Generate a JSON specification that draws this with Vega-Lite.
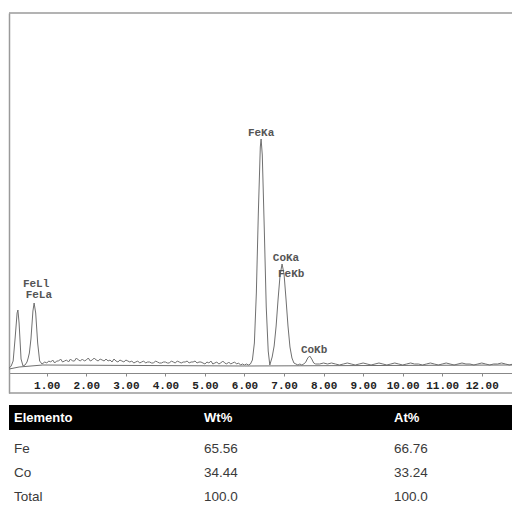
{
  "$schema": "https://vega.github.io/schema/vega-lite/v6.json",
  "padding": {"left": 7, "top": 12, "right": 0, "bottom": 0},
  "spacing": 11,
  "background": "white",
  "config": {"view": {"stroke": null}, "font": "Liberation Sans"},
  "datasets": {
    "spectrum": [
      {"keV": 0.05, "counts": 5, "series": "spectrum"},
      {"keV": 0.1, "counts": 7, "series": "spectrum"},
      {"keV": 0.15, "counts": 12, "series": "spectrum"},
      {"keV": 0.2, "counts": 35, "series": "spectrum"},
      {"keV": 0.25, "counts": 60, "series": "spectrum"},
      {"keV": 0.27, "counts": 63, "series": "spectrum"},
      {"keV": 0.3, "counts": 50, "series": "spectrum"},
      {"keV": 0.35, "counts": 14, "series": "spectrum"},
      {"keV": 0.4, "counts": 7, "series": "spectrum"},
      {"keV": 0.45, "counts": 8, "series": "spectrum"},
      {"keV": 0.5, "counts": 11, "series": "spectrum"},
      {"keV": 0.53, "counts": 15, "series": "spectrum"},
      {"keV": 0.56, "counts": 20, "series": "spectrum"},
      {"keV": 0.6, "counts": 34, "series": "spectrum"},
      {"keV": 0.65, "counts": 62, "series": "spectrum"},
      {"keV": 0.68, "counts": 70, "series": "spectrum"},
      {"keV": 0.72, "counts": 60, "series": "spectrum"},
      {"keV": 0.77, "counts": 30, "series": "spectrum"},
      {"keV": 0.82, "counts": 12, "series": "spectrum"},
      {"keV": 0.88, "counts": 9, "series": "spectrum"},
      {"keV": 0.95, "counts": 11, "series": "spectrum"},
      {"keV": 1.0, "counts": 10, "series": "spectrum"},
      {"keV": 1.05, "counts": 12, "series": "spectrum"},
      {"keV": 1.1, "counts": 11, "series": "spectrum"},
      {"keV": 1.15, "counts": 13, "series": "spectrum"},
      {"keV": 1.2, "counts": 10, "series": "spectrum"},
      {"keV": 1.25, "counts": 12, "series": "spectrum"},
      {"keV": 1.3, "counts": 12, "series": "spectrum"},
      {"keV": 1.35, "counts": 14, "series": "spectrum"},
      {"keV": 1.4, "counts": 11, "series": "spectrum"},
      {"keV": 1.45, "counts": 12, "series": "spectrum"},
      {"keV": 1.5, "counts": 13, "series": "spectrum"},
      {"keV": 1.55, "counts": 11, "series": "spectrum"},
      {"keV": 1.6, "counts": 14, "series": "spectrum"},
      {"keV": 1.65, "counts": 12, "series": "spectrum"},
      {"keV": 1.7, "counts": 12, "series": "spectrum"},
      {"keV": 1.75, "counts": 15, "series": "spectrum"},
      {"keV": 1.8, "counts": 13, "series": "spectrum"},
      {"keV": 1.85, "counts": 12, "series": "spectrum"},
      {"keV": 1.9, "counts": 14, "series": "spectrum"},
      {"keV": 1.95, "counts": 12, "series": "spectrum"},
      {"keV": 2.0, "counts": 13, "series": "spectrum"},
      {"keV": 2.05, "counts": 15, "series": "spectrum"},
      {"keV": 2.1, "counts": 12, "series": "spectrum"},
      {"keV": 2.15, "counts": 13, "series": "spectrum"},
      {"keV": 2.2, "counts": 15, "series": "spectrum"},
      {"keV": 2.25, "counts": 13, "series": "spectrum"},
      {"keV": 2.3, "counts": 12, "series": "spectrum"},
      {"keV": 2.35, "counts": 14, "series": "spectrum"},
      {"keV": 2.4, "counts": 13, "series": "spectrum"},
      {"keV": 2.45, "counts": 12, "series": "spectrum"},
      {"keV": 2.5, "counts": 14, "series": "spectrum"},
      {"keV": 2.55, "counts": 12, "series": "spectrum"},
      {"keV": 2.6, "counts": 13, "series": "spectrum"},
      {"keV": 2.65, "counts": 11, "series": "spectrum"},
      {"keV": 2.7, "counts": 14, "series": "spectrum"},
      {"keV": 2.75, "counts": 12, "series": "spectrum"},
      {"keV": 2.8, "counts": 11, "series": "spectrum"},
      {"keV": 2.85, "counts": 13, "series": "spectrum"},
      {"keV": 2.9, "counts": 12, "series": "spectrum"},
      {"keV": 2.95, "counts": 11, "series": "spectrum"},
      {"keV": 3.0, "counts": 13, "series": "spectrum"},
      {"keV": 3.05, "counts": 12, "series": "spectrum"},
      {"keV": 3.1, "counts": 11, "series": "spectrum"},
      {"keV": 3.15, "counts": 12, "series": "spectrum"},
      {"keV": 3.2, "counts": 10, "series": "spectrum"},
      {"keV": 3.25, "counts": 11, "series": "spectrum"},
      {"keV": 3.3, "counts": 12, "series": "spectrum"},
      {"keV": 3.35, "counts": 10, "series": "spectrum"},
      {"keV": 3.4, "counts": 11, "series": "spectrum"},
      {"keV": 3.45, "counts": 12, "series": "spectrum"},
      {"keV": 3.5, "counts": 10, "series": "spectrum"},
      {"keV": 3.55, "counts": 11, "series": "spectrum"},
      {"keV": 3.6, "counts": 11, "series": "spectrum"},
      {"keV": 3.65, "counts": 10, "series": "spectrum"},
      {"keV": 3.7, "counts": 10, "series": "spectrum"},
      {"keV": 3.75, "counts": 12, "series": "spectrum"},
      {"keV": 3.8, "counts": 11, "series": "spectrum"},
      {"keV": 3.85, "counts": 10, "series": "spectrum"},
      {"keV": 3.9, "counts": 10, "series": "spectrum"},
      {"keV": 3.95, "counts": 11, "series": "spectrum"},
      {"keV": 4.0, "counts": 11, "series": "spectrum"},
      {"keV": 4.05, "counts": 10, "series": "spectrum"},
      {"keV": 4.1, "counts": 10, "series": "spectrum"},
      {"keV": 4.15, "counts": 12, "series": "spectrum"},
      {"keV": 4.2, "counts": 11, "series": "spectrum"},
      {"keV": 4.25, "counts": 10, "series": "spectrum"},
      {"keV": 4.3, "counts": 12, "series": "spectrum"},
      {"keV": 4.35, "counts": 11, "series": "spectrum"},
      {"keV": 4.4, "counts": 10, "series": "spectrum"},
      {"keV": 4.45, "counts": 11, "series": "spectrum"},
      {"keV": 4.5, "counts": 11, "series": "spectrum"},
      {"keV": 4.55, "counts": 12, "series": "spectrum"},
      {"keV": 4.6, "counts": 10, "series": "spectrum"},
      {"keV": 4.65, "counts": 11, "series": "spectrum"},
      {"keV": 4.7, "counts": 11, "series": "spectrum"},
      {"keV": 4.75, "counts": 12, "series": "spectrum"},
      {"keV": 4.8, "counts": 10, "series": "spectrum"},
      {"keV": 4.85, "counts": 11, "series": "spectrum"},
      {"keV": 4.9, "counts": 11, "series": "spectrum"},
      {"keV": 4.95, "counts": 10, "series": "spectrum"},
      {"keV": 5.0, "counts": 9, "series": "spectrum"},
      {"keV": 5.05, "counts": 11, "series": "spectrum"},
      {"keV": 5.1, "counts": 10, "series": "spectrum"},
      {"keV": 5.15, "counts": 12, "series": "spectrum"},
      {"keV": 5.2, "counts": 9, "series": "spectrum"},
      {"keV": 5.25, "counts": 10, "series": "spectrum"},
      {"keV": 5.3, "counts": 11, "series": "spectrum"},
      {"keV": 5.35, "counts": 9, "series": "spectrum"},
      {"keV": 5.4, "counts": 10, "series": "spectrum"},
      {"keV": 5.45, "counts": 12, "series": "spectrum"},
      {"keV": 5.5, "counts": 10, "series": "spectrum"},
      {"keV": 5.55, "counts": 9, "series": "spectrum"},
      {"keV": 5.6, "counts": 11, "series": "spectrum"},
      {"keV": 5.65, "counts": 9, "series": "spectrum"},
      {"keV": 5.7, "counts": 10, "series": "spectrum"},
      {"keV": 5.75, "counts": 11, "series": "spectrum"},
      {"keV": 5.8, "counts": 9, "series": "spectrum"},
      {"keV": 5.85, "counts": 10, "series": "spectrum"},
      {"keV": 5.9, "counts": 8, "series": "spectrum"},
      {"keV": 5.95, "counts": 9, "series": "spectrum"},
      {"keV": 6.0, "counts": 8, "series": "spectrum"},
      {"keV": 6.05, "counts": 9, "series": "spectrum"},
      {"keV": 6.1, "counts": 8, "series": "spectrum"},
      {"keV": 6.15, "counts": 9, "series": "spectrum"},
      {"keV": 6.2, "counts": 13, "series": "spectrum"},
      {"keV": 6.25, "counts": 30, "series": "spectrum"},
      {"keV": 6.3, "counts": 80, "series": "spectrum"},
      {"keV": 6.35, "counts": 160, "series": "spectrum"},
      {"keV": 6.4, "counts": 226, "series": "spectrum"},
      {"keV": 6.42, "counts": 234, "series": "spectrum"},
      {"keV": 6.45, "counts": 218, "series": "spectrum"},
      {"keV": 6.5, "counts": 145, "series": "spectrum"},
      {"keV": 6.55, "counts": 66, "series": "spectrum"},
      {"keV": 6.6, "counts": 22, "series": "spectrum"},
      {"keV": 6.64, "counts": 8, "series": "spectrum"},
      {"keV": 6.7, "counts": 16, "series": "spectrum"},
      {"keV": 6.75, "counts": 27, "series": "spectrum"},
      {"keV": 6.8, "counts": 47, "series": "spectrum"},
      {"keV": 6.85, "counts": 74, "series": "spectrum"},
      {"keV": 6.9, "counts": 98, "series": "spectrum"},
      {"keV": 6.95, "counts": 109, "series": "spectrum"},
      {"keV": 7.0, "counts": 99, "series": "spectrum"},
      {"keV": 7.05, "counts": 74, "series": "spectrum"},
      {"keV": 7.1, "counts": 47, "series": "spectrum"},
      {"keV": 7.15, "counts": 26, "series": "spectrum"},
      {"keV": 7.2, "counts": 15, "series": "spectrum"},
      {"keV": 7.25, "counts": 10, "series": "spectrum"},
      {"keV": 7.3, "counts": 9, "series": "spectrum"},
      {"keV": 7.35, "counts": 8, "series": "spectrum"},
      {"keV": 7.4, "counts": 9, "series": "spectrum"},
      {"keV": 7.45, "counts": 8, "series": "spectrum"},
      {"keV": 7.5, "counts": 9, "series": "spectrum"},
      {"keV": 7.55, "counts": 11, "series": "spectrum"},
      {"keV": 7.6, "counts": 15, "series": "spectrum"},
      {"keV": 7.65, "counts": 17, "series": "spectrum"},
      {"keV": 7.7, "counts": 14, "series": "spectrum"},
      {"keV": 7.75, "counts": 10, "series": "spectrum"},
      {"keV": 7.8, "counts": 9, "series": "spectrum"},
      {"keV": 7.9, "counts": 9, "series": "spectrum"},
      {"keV": 8.0, "counts": 10, "series": "spectrum"},
      {"keV": 8.1, "counts": 9, "series": "spectrum"},
      {"keV": 8.2, "counts": 10, "series": "spectrum"},
      {"keV": 8.3, "counts": 9, "series": "spectrum"},
      {"keV": 8.4, "counts": 8, "series": "spectrum"},
      {"keV": 8.5, "counts": 9, "series": "spectrum"},
      {"keV": 8.6, "counts": 10, "series": "spectrum"},
      {"keV": 8.7, "counts": 9, "series": "spectrum"},
      {"keV": 8.8, "counts": 8, "series": "spectrum"},
      {"keV": 8.9, "counts": 9, "series": "spectrum"},
      {"keV": 9.0, "counts": 10, "series": "spectrum"},
      {"keV": 9.1, "counts": 9, "series": "spectrum"},
      {"keV": 9.2, "counts": 8, "series": "spectrum"},
      {"keV": 9.3, "counts": 9, "series": "spectrum"},
      {"keV": 9.4, "counts": 10, "series": "spectrum"},
      {"keV": 9.5, "counts": 9, "series": "spectrum"},
      {"keV": 9.6, "counts": 8, "series": "spectrum"},
      {"keV": 9.7, "counts": 9, "series": "spectrum"},
      {"keV": 9.8, "counts": 10, "series": "spectrum"},
      {"keV": 9.9, "counts": 9, "series": "spectrum"},
      {"keV": 10.0, "counts": 8, "series": "spectrum"},
      {"keV": 10.1, "counts": 9, "series": "spectrum"},
      {"keV": 10.2, "counts": 10, "series": "spectrum"},
      {"keV": 10.3, "counts": 9, "series": "spectrum"},
      {"keV": 10.4, "counts": 9, "series": "spectrum"},
      {"keV": 10.5, "counts": 8, "series": "spectrum"},
      {"keV": 10.6, "counts": 9, "series": "spectrum"},
      {"keV": 10.7, "counts": 10, "series": "spectrum"},
      {"keV": 10.8, "counts": 9, "series": "spectrum"},
      {"keV": 10.9, "counts": 8, "series": "spectrum"},
      {"keV": 11.0, "counts": 9, "series": "spectrum"},
      {"keV": 11.1, "counts": 10, "series": "spectrum"},
      {"keV": 11.2, "counts": 9, "series": "spectrum"},
      {"keV": 11.3, "counts": 8, "series": "spectrum"},
      {"keV": 11.4, "counts": 9, "series": "spectrum"},
      {"keV": 11.5, "counts": 10, "series": "spectrum"},
      {"keV": 11.6, "counts": 9, "series": "spectrum"},
      {"keV": 11.7, "counts": 9, "series": "spectrum"},
      {"keV": 11.8, "counts": 8, "series": "spectrum"},
      {"keV": 11.9, "counts": 9, "series": "spectrum"},
      {"keV": 12.0, "counts": 10, "series": "spectrum"},
      {"keV": 12.1, "counts": 9, "series": "spectrum"},
      {"keV": 12.2, "counts": 8, "series": "spectrum"},
      {"keV": 12.3, "counts": 9, "series": "spectrum"},
      {"keV": 12.4, "counts": 9, "series": "spectrum"},
      {"keV": 12.5, "counts": 10, "series": "spectrum"},
      {"keV": 12.6, "counts": 9, "series": "spectrum"},
      {"keV": 12.7, "counts": 8, "series": "spectrum"},
      {"keV": 12.79, "counts": 9, "series": "spectrum"},
      {"keV": 0.05, "counts": 4, "series": "background"},
      {"keV": 0.3, "counts": 6, "series": "background"},
      {"keV": 0.9, "counts": 8, "series": "background"},
      {"keV": 6.0, "counts": 7, "series": "background"},
      {"keV": 12.79, "counts": 8, "series": "background"}
    ],
    "frame": [
      {"edge": "top", "counts": 360},
      {"edge": "bottom", "counts": -20}
    ],
    "labels": [
      {"keV": 0.73, "counts": 89, "label": "FeLl"},
      {"keV": 0.8, "counts": 78, "label": "FeLa"},
      {"keV": 6.42, "counts": 240, "label": "FeKa"},
      {"keV": 7.05, "counts": 115, "label": "CoKa"},
      {"keV": 7.18, "counts": 99, "label": "FeKb"},
      {"keV": 7.76, "counts": 23, "label": "CoKb"}
    ],
    "header": [
      {"col": "Elemento"},
      {"col": "Wt%"},
      {"col": "At%"}
    ],
    "table": [
      {"Elemento": "Fe", "Wt%": "65.56", "At%": "66.76"},
      {"Elemento": "Co", "Wt%": "34.44", "At%": "33.24"},
      {"Elemento": "Total", "Wt%": "100.0", "At%": "100.0"}
    ]
  },
  "vconcat": [
    {
      "width": 504,
      "height": 380,
      "view": {"stroke": "transparent", "strokeWidth": 0},
      "layer": [
        {
          "data": {"name": "frame"},
          "mark": {"type": "rule", "color": "#9a9a9a", "strokeWidth": 1.5},
          "encoding": {
            "y": {"field": "counts", "type": "quantitative"}
          }
        },
        {
          "data": {"name": "spectrum"},
          "mark": {"type": "line", "color": "#707070", "strokeWidth": 1},
          "encoding": {
            "x": {
              "field": "keV", "type": "quantitative",
              "scale": {"domain": [0.045, 12.79], "nice": false, "zero": false},
              "axis": {
                "orient": "bottom", "offset": -20, "title": null, "grid": false,
                "values": [1, 2, 3, 4, 5, 6, 7, 8, 9, 10, 11, 12],
                "format": ".2f", "labelFont": "Liberation Mono", "labelFontWeight": "bold",
                "labelFontSize": 11, "labelColor": "#222222", "labelDx": 3,
                "labelPadding": 3, "tickSize": 3, "tickColor": "#888888",
                "domainColor": "#888888", "domainWidth": 1.2
              }
            },
            "y": {
              "field": "counts", "type": "quantitative",
              "scale": {"domain": [-20, 360], "nice": false, "zero": false},
              "axis": {
                "orient": "left", "title": null, "grid": false, "labels": false,
                "ticks": false, "domainColor": "#9a9a9a", "domainWidth": 1.5
              }
            },
            "detail": {"field": "series", "type": "nominal"}
          }
        },
        {
          "data": {"name": "labels"},
          "mark": {"type": "text", "font": "Liberation Mono", "fontWeight": "bold", "fontSize": 11, "color": "#555555"},
          "encoding": {
            "x": {"field": "keV", "type": "quantitative"},
            "y": {"field": "counts", "type": "quantitative"},
            "text": {"field": "label"}
          }
        }
      ]
    },
    {
      "width": 504,
      "height": 25,
      "view": {"fill": "#000000", "stroke": null},
      "data": {"name": "header"},
      "mark": {"type": "text", "color": "white", "fontWeight": "bold", "fontSize": 13, "align": "left", "dx": 5, "font": "Liberation Sans"},
      "encoding": {
        "x": {
          "field": "col", "type": "nominal",
          "scale": {"type": "point", "domain": ["Elemento", "Wt%", "At%"], "padding": 0.326, "align": 0},
          "axis": null
        },
        "text": {"field": "col"}
      }
    },
    {
      "width": 504,
      "height": 72,
      "view": {"stroke": null},
      "data": {"name": "table"},
      "transform": [{"fold": ["Elemento", "Wt%", "At%"], "as": ["col", "val"]}],
      "mark": {"type": "text", "align": "left", "dx": 5, "dy": 8, "fontSize": 13.5, "color": "#3a3a3a", "font": "Liberation Sans"},
      "encoding": {
        "x": {
          "field": "col", "type": "nominal",
          "scale": {"type": "point", "domain": ["Elemento", "Wt%", "At%"], "padding": 0.326, "align": 0},
          "axis": null
        },
        "y": {
          "field": "Elemento", "type": "nominal",
          "scale": {"type": "point", "domain": ["Fe", "Co", "Total"], "padding": 0.5, "align": 0},
          "axis": null
        },
        "text": {"field": "val"}
      }
    }
  ]
}
